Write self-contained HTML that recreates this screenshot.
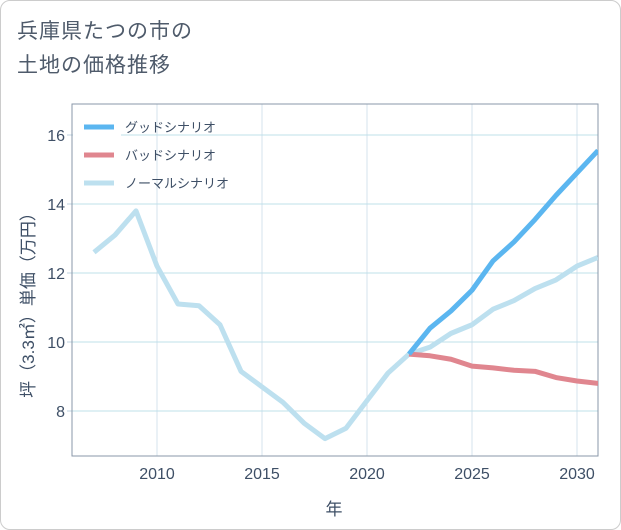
<!DOCTYPE html>
<html><head><meta charset="utf-8"><style>
body{margin:0;background:#fff;}
#wrap{position:relative;width:619px;height:528px;border:1px solid #ccc;border-radius:10px;overflow:hidden;font-family:"Liberation Sans","Noto Sans CJK JP",sans-serif;}
#title{position:absolute;left:16px;top:14px;font-size:21px;line-height:34px;color:#4f5b6b;letter-spacing:1px;}
svg{position:absolute;left:0;top:0;}
text{font-family:"Liberation Sans","Noto Sans CJK JP",sans-serif;}
</style></head><body>
<div id="wrap">
<div id="title">兵庫県たつの市の<br>土地の価格推移</div>
<svg id="chart" width="621" height="530"></svg>
</div>
<script>
const years=[2007,2008,2009,2010,2011,2012,2013,2014,2015,2016,2017,2018,2019,2020,2021,2022,2023,2024,2025,2026,2027,2028,2029,2030,2031];
const normalValues=[12.6,13.1,13.8,12.2,11.1,11.05,10.5,9.15,8.7,8.25,7.65,7.2,7.5,8.3,9.1,9.65,9.85,10.25,10.5,10.95,11.2,11.55,11.8,12.2,12.45];
const futureYears=[2022,2023,2024,2025,2026,2027,2028,2029,2030,2031];
const goodValues=[9.65,10.4,10.9,11.5,12.35,12.9,13.55,14.25,14.9,15.55];
const badValues=[9.65,9.6,9.5,9.3,9.25,9.18,9.15,8.97,8.87,8.8];
const xTicks=[2010,2015,2020,2025,2030];
const yTicks=[8,10,12,14,16];
const L=71,R=597,T=103,B=455;
const TXT='#3e4f66';
const x=v=>156+(v-2010)*21;
const y=v=>341-(v-10)*34.5;
const svg=document.getElementById('chart');
const NS='http://www.w3.org/2000/svg';
function mk(t,a){const e=document.createElementNS(NS,t);for(const k in a)e.setAttribute(k,a[k]);svg.appendChild(e);return e;}
xTicks.forEach(t=>{
const g=mk('line',{x1:x(t),x2:x(t),y1:T,y2:B,stroke:'#d5e3ec','stroke-width':1});


const l=mk('text',{x:x(t),y:478,'text-anchor':'middle','font-size':16,fill:TXT});l.textContent=t;


});
yTicks.forEach(t=>{
const g=mk('line',{x1:L,x2:R,y1:y(t),y2:y(t),stroke:'#bfe0ea','stroke-width':1});


const tk=mk('line',{x1:L-5,x2:L,y1:y(t),y2:y(t),stroke:'#bfd3e0','stroke-width':1});


const l=mk('text',{x:64,y:y(t)+6,'text-anchor':'end','font-size':16,fill:TXT});l.textContent=t;


});
const lb=mk('rect',{x:L+1,y:T+1,width:48,height:95,fill:'#fff'});


const fr=mk('rect',{x:L,y:T,width:R-L,height:B-T,fill:'none',stroke:'#8a97a8','stroke-width':1});


const clip=mk('clipPath',{id:'c'});const cr=document.createElementNS(NS,'rect');
cr.setAttribute('x',L);cr.setAttribute('y',T);cr.setAttribute('width',R-L);cr.setAttribute('height',B-T);clip.appendChild(cr);
function line(xs,vs,col,name){const p=mk('polyline',{points:xs.map((v,i)=>x(v)+','+y(vs[i])).join(' '),fill:'none',stroke:col,'stroke-width':5,'stroke-linejoin':'round','clip-path':'url(#c)'});

}
line(years,normalValues,'#bde0ef','normal-scenario-line');
line(futureYears,badValues,'#e0868f','bad-scenario-line');
line(futureYears,goodValues,'#5bb6f0','good-scenario-line');
const leg=[['グッドシナリオ','#5bb6f0',126],['バッドシナリオ','#e0868f',154],['ノーマルシナリオ','#bde0ef',182]];
leg.forEach(d=>{
const s=mk('line',{x1:83,x2:113,y1:d[2],y2:d[2],stroke:d[1],'stroke-width':5});


const t=mk('text',{x:124,y:d[2]+5,'font-size':13,fill:TXT});t.textContent=d[0];


});
const xt=mk('text',{x:333,y:514,'text-anchor':'middle','font-size':17,fill:TXT});xt.textContent='年';


const yt=mk('text',{x:0,y:0,'text-anchor':'middle','font-size':17,fill:TXT,transform:'translate(33,300) rotate(-90)'});yt.textContent='坪（3.3㎡）単価（万円）';


</script>
</body></html>
